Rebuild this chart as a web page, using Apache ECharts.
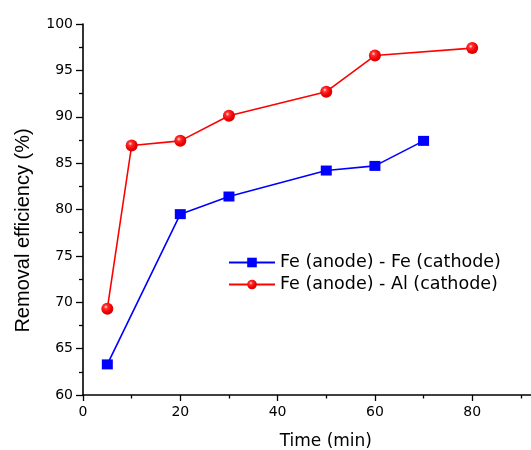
<!DOCTYPE html>
<html>
<head>
<meta charset="utf-8">
<script src="https://cdn.jsdelivr.net/npm/echarts@6/dist/echarts.min.js"></script>
<style>html,body{margin:0;padding:0;background:#fff;}#c{width:531px;height:450px;}</style>
</head>
<body>
<div id="c"></div>
<script>
var timeFeFe = [5, 20, 30, 50, 60, 70];
var effFeFe = [63.3, 79.5, 81.4, 84.2, 84.7, 87.4];
var timeFeAl = [5, 10, 20, 30, 50, 60, 80];
var effFeAl = [69.3, 86.9, 87.4, 90.1, 92.7, 96.6, 97.4];
var seriesNames = ['Fe (anode) - Fe (cathode)', 'Fe (anode) - Al (cathode)'];
var xMajorTicks = [0, 20, 40, 60, 80];
var xMinorTicks = [10, 30, 50, 70, 90];
var xTitle = 'Time (min)';
var yTitle = 'Removal efficiency (%)';

function pairs(xs, ys) { return xs.map(function (x, i) { return [x, ys[i]]; }); }

var chart = echarts.init(document.getElementById('c'), null, {renderer: 'canvas'});
var redBall = new echarts.graphic.RadialGradient(0.38, 0.35, 0.65, [
  {offset: 0, color: '#ffe6e6'},
  {offset: 0.25, color: '#ff3030'},
  {offset: 0.7, color: '#f00000'},
  {offset: 1, color: '#d80000'}
]);
var labelFont = {fontFamily: 'DejaVu Sans', fontSize: 14, color: '#000'};
chart.setOption({
  animation: false,
  backgroundColor: '#fff',
  grid: {left: 83, right: 0.4, top: 24, bottom: 55, containLabel: false, outerBoundsMode: 'none'},
  xAxis: [{
    type: 'value', min: 0, max: 92, position: 'bottom',
    name: xTitle, nameLocation: 'middle', nameGap: 38,
    nameTextStyle: {fontFamily: 'DejaVu Sans', fontSize: 17, color: '#000', padding: [0, 0, 0, 38]},
    axisLine: {show: true, lineStyle: {color: '#000', width: 1.6}},
    axisTick: {show: true, inside: false, length: 6, customValues: xMajorTicks, lineStyle: {color: '#000', width: 1.3}},
    axisLabel: Object.assign({margin: 10, customValues: xMajorTicks}, labelFont),
    splitLine: {show: false}
  }, {
    type: 'value', min: 0, max: 92, position: 'bottom',
    axisLine: {show: false},
    axisTick: {show: true, inside: false, length: 3.5, customValues: xMinorTicks, lineStyle: {color: '#000', width: 1.3}},
    axisLabel: {show: false},
    splitLine: {show: false}
  }],
  yAxis: {
    type: 'value', min: 60, max: 100, interval: 5,
    name: yTitle, nameLocation: 'middle', nameGap: 50,
    nameTextStyle: {fontFamily: 'Liberation Sans', fontSize: 20, color: '#000', padding: [0, 42, 0, 0]},
    axisLine: {show: true, lineStyle: {color: '#000', width: 1.6}},
    axisTick: {show: true, inside: false, length: 7, lineStyle: {color: '#000', width: 1.3}},
    minorTick: {show: true, splitNumber: 2, length: 4, lineStyle: {color: '#000', width: 1.3}},
    axisLabel: Object.assign({margin: 10}, labelFont),
    splitLine: {show: false}
  },
  legend: {
    orient: 'vertical', left: 223, top: 248.5,
    itemWidth: 46, itemHeight: 12, itemGap: 4,
    textStyle: {fontFamily: 'DejaVu Sans', fontSize: 17.5, color: '#000'},
    data: seriesNames
  },
  series: [
    {
      name: seriesNames[0], type: 'line', xAxisIndex: 0, data: pairs(timeFeFe, effFeFe),
      symbol: 'rect', symbolSize: [11, 10],
      lineStyle: {color: '#0000ff', width: 1.6},
      itemStyle: {color: '#0000ff'}
    },
    {
      name: seriesNames[1], type: 'line', xAxisIndex: 0, data: pairs(timeFeAl, effFeAl),
      symbol: 'circle', symbolSize: 12,
      lineStyle: {color: '#ff0000', width: 1.6},
      itemStyle: {color: redBall}
    }
  ]
});
</script>
</body>
</html>
